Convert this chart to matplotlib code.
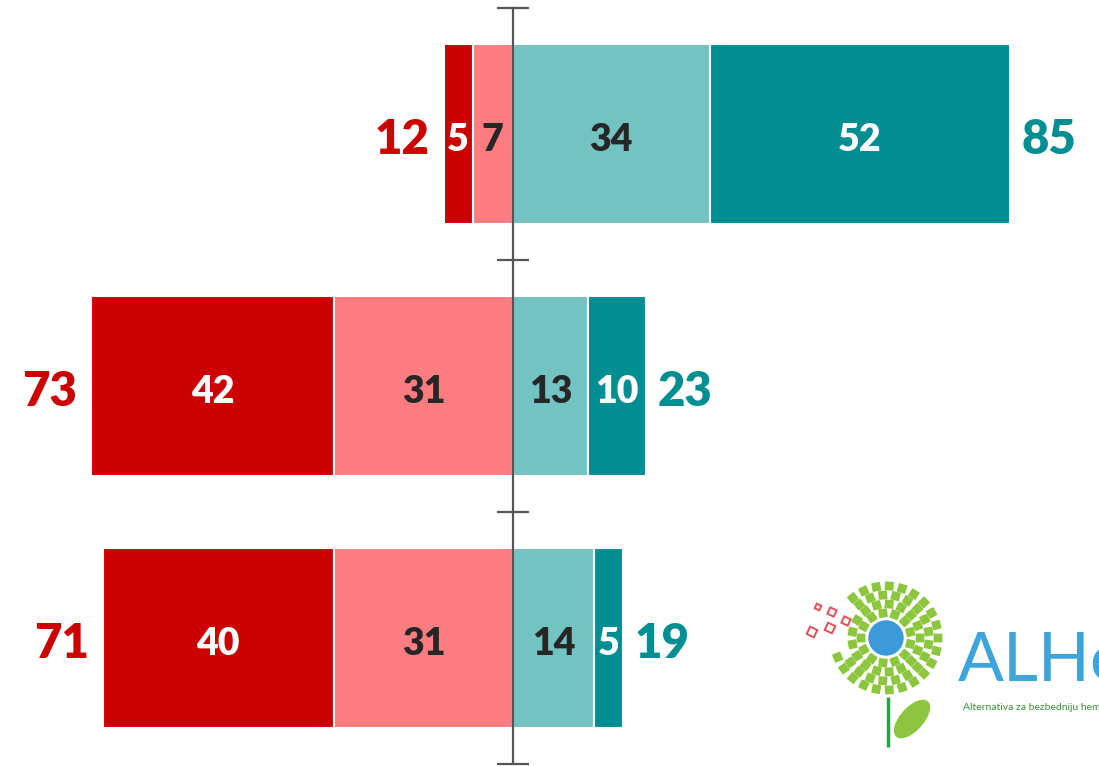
import numpy as np
import matplotlib
matplotlib.use("Agg")
from matplotlib import pyplot as plt
from matplotlib import patches

W_PX, H_PX = 1099, 766

# data: strongly disagree, disagree, agree, strongly agree (top to bottom rows)
rows = [0, 1, 2]
neg_strong = [5, 42, 40]
neg_mild = [7, 31, 31]
pos_mild = [34, 13, 14]
pos_strong = [52, 10, 5]
neg_total = [12, 73, 71]
pos_total = [85, 23, 19]

DARK_RED = "#CC0000"
LIGHT_RED = "#FF7C80"
LIGHT_TEAL = "#73C3C3"
DARK_TEAL = "#008E93"
DARK_TXT = "#262626"

plt.rcParams["font.family"] = ["Lato", "DejaVu Sans"]

fig = plt.figure(figsize=(W_PX / 100, H_PX / 100), dpi=100)
ax = fig.add_axes([0, 0, 1, 1])

SCALE = 5.78  # px per unit
ax.set_xlim(-513 / SCALE, (W_PX - 513) / SCALE)
y_top = -0.5 - 8 / 252
ax.set_ylim(y_top + H_PX / 252, y_top)

BAR_H = 180 / 252
DY = 0.022  # label baseline nudge
ns = np.array(neg_strong)
nm = np.array(neg_mild)
pm = np.array(pos_mild)
ps = np.array(pos_strong)

segs = [
    (-(ns + nm), ns, DARK_RED, "white"),
    (-nm, nm, LIGHT_RED, DARK_TXT),
    (0 * pm, pm, LIGHT_TEAL, DARK_TXT),
    (pm, ps, DARK_TEAL, "white"),
]
for left, width, col, tcol in segs:
    bars = ax.barh(rows, width, left=left, height=BAR_H, color=col,
                   edgecolor="white", linewidth=1.5, zorder=1)
    for b, v in zip(bars, width):
        cx = b.get_x() + b.get_width() / 2
        cy = b.get_y() + b.get_height() / 2
        ax.text(cx, cy + DY, str(v), ha="center", va="center", color=tcol,
                fontsize=27, fontweight="heavy", zorder=3)

for r, a, b, t1, t2 in zip(rows, ns + nm, pm + ps, neg_total, pos_total):
    ax.text(-a - 2.4, r + DY, str(t1), ha="right", va="center", color=DARK_RED,
            fontsize=34, fontweight="heavy")
    ax.text(b + 2.0, r + DY, str(t2), ha="left", va="center", color=DARK_TEAL,
            fontsize=34, fontweight="heavy")

# central category axis
for s in ["top", "right", "bottom"]:
    ax.spines[s].set_visible(False)
ax.spines["left"].set_position(("data", 0))
ax.spines["left"].set_bounds(-0.5, 2.5)
ax.spines["left"].set_color("#555555")
ax.spines["left"].set_linewidth(1.6)
ax.spines["left"].set_zorder(2.5)
ax.set_yticks([-0.5, 0.5, 1.5, 2.5])
ax.set_yticklabels([])
ax.tick_params(axis="y", direction="inout", length=23, width=1.6, color="#555555")
ax.set_xticks([])
ax.patch.set_alpha(0)

# logo in the bottom right corner (pixel coordinates)
lg = fig.add_axes([0, 0, 1, 1], zorder=-1)
lg.set_xlim(0, W_PX)
lg.set_ylim(H_PX, 0)
lg.axis("off")

cx, cy = 886, 638
lg.add_patch(patches.Circle((cx, cy), 17, color="#3D9AD9"))
ring_radii = [25, 34, 43, 52]
ring_counts = [13, 17, 21, 25]
for rad, n in zip(ring_radii, ring_counts):
    for k in range(n):
        ang = 2 * np.pi * (k + 0.5 * (rad % 2)) / n
        deg = np.degrees(ang) % 360
        # gap in the upper left where the squares fly off
        if rad >= 43 and 140 < deg < 200:
            continue
        x = cx + rad * np.cos(ang)
        y = cy - rad * np.sin(ang)
        sq = patches.FancyBboxPatch((x - 3.6, y - 3.6), 7.2, 7.2,
                                    boxstyle="round,pad=0.8",
                                    color="#8CC63F", linewidth=0)
        t = matplotlib.transforms.Affine2D().rotate_deg_around(x, y, -deg) + lg.transData
        sq.set_transform(t)
        lg.add_patch(sq)

red_sq = [(818, 607, 5), (832, 612, 7), (846, 621, 7), (812, 632, 8), (830, 628, 8)]
for x, y, s in red_sq:
    p = patches.Rectangle((x - s / 2, y - s / 2), s, s, fill=False,
                          edgecolor="#E0505A", linewidth=1.4)
    p.set_transform(matplotlib.transforms.Affine2D().rotate_deg_around(x, y, 25) + lg.transData)
    lg.add_patch(p)

lg.plot([888, 888], [697, 747], color="#2E9E48", linewidth=2.5, solid_capstyle="butt")
lg.add_patch(patches.Ellipse((912, 719), 46, 22, angle=-48, color="#8CC63F"))

lg.text(958, 681, "ALHe", ha="left", va="baseline", color="#3DA5DC",
        fontsize=49, fontweight="normal", family=["Lato", "DejaVu Sans"])
lg.text(963, 708, "Alternativa za bezbedniju hemiju", ha="left", va="center",
        color="#3A8E3A", fontsize=7.5)

fig.savefig("out.png", dpi=100)
